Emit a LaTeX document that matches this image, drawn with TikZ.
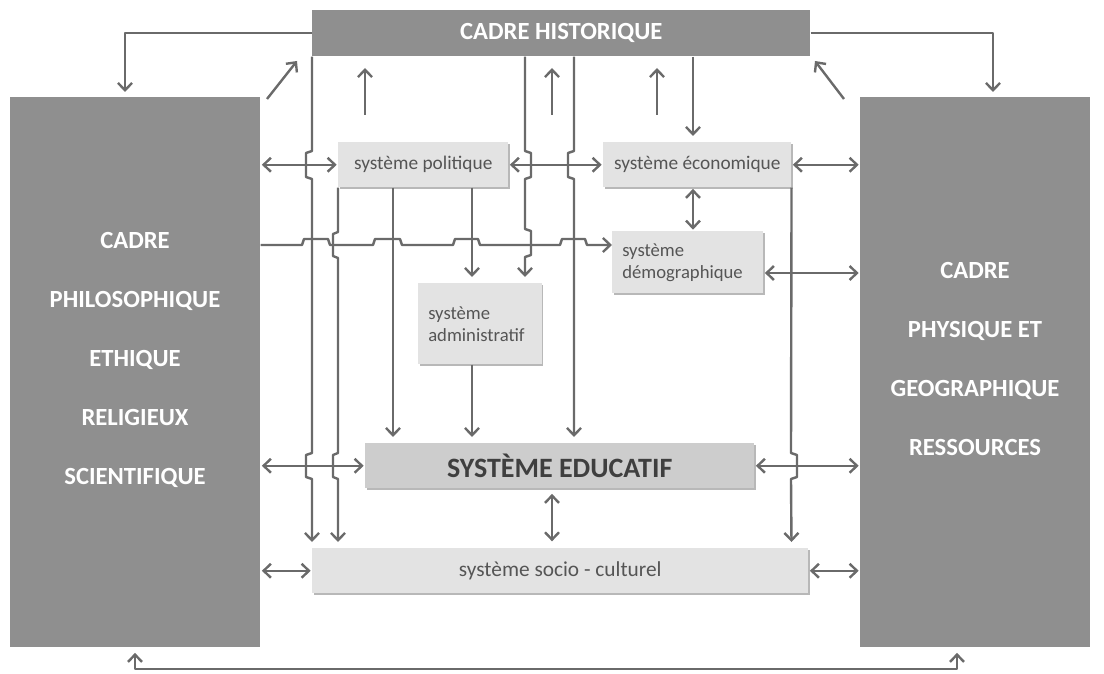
\documentclass[tikz,border=0pt]{standalone}
\usepackage{fontspec}
\setmainfont{Carlito}
\usetikzlibrary{arrows.meta,calc,shadows}
\definecolor{FrameGray}{HTML}{8F8F8F}
\definecolor{SysGray}{HTML}{E3E3E3}
\definecolor{EduGray}{HTML}{CDCDCD}
\definecolor{LinkGray}{HTML}{6A6A6A}
\definecolor{SysText}{HTML}{555555}
\definecolor{EduText}{HTML}{3F3F3F}
\tikzset{
  frbox/.style={fill=FrameGray, text=white, inner sep=0pt, align=center, font=\fontsize{18.5}{22}\selectfont\bfseries},
  frtext/.style={text=white, align=center, inner sep=0pt, font=\fontsize{18.5}{44.25}\selectfont\bfseries},
  sysbox/.style={fill=SysGray, text=SysText, inner sep=0pt, align=center, font=\fontsize{14.5}{17}\selectfont,
    drop shadow={shadow xshift=1pt, shadow yshift=-1pt, fill=black!28, opacity=1}},
  sysleft/.style={sysbox, align=left, inner xsep=7.5pt, font=\fontsize{14}{16.5}\selectfont},
  edubox/.style={sysbox, fill=EduGray, text=EduText, font=\fontsize{21}{24}\selectfont\bfseries},
  link/.style={line width=1.8pt, draw=LinkGray, line join=round},
  tolink/.style={link, -{Straight Barb[length=5.5pt,width=10.5pt]}},
  downlink/.style={tolink, shorten >=4.5pt},
  bilink/.style={link, {Straight Barb[length=5.5pt,width=10.5pt]}-{Straight Barb[length=5.5pt,width=10.5pt]}, shorten <=1pt, shorten >=1pt}
}
\begin{document}
\begin{tikzpicture}[x=0.75pt, y=-0.75pt]
  \useasboundingbox (0,0) rectangle (1104,674);
  % frames
  \node[frbox, anchor=north west, minimum width=373.5pt, minimum height=34.5pt] (hist) at (312,10) {CADRE HISTORIQUE};
  \node[frbox, anchor=north west, minimum width=187.5pt, minimum height=412.5pt] (phil) at (10,97) {};
  \node[frbox, anchor=north west, minimum width=172.5pt, minimum height=412.5pt] (geo) at (860,97) {};
  \node[frtext] (philtxt) at (135,360) {CADRE\\PHILOSOPHIQUE\\ETHIQUE\\RELIGIEUX\\SCIENTIFIQUE};
  \node[frtext] (geotxt) at (975,359) {CADRE\\PHYSIQUE ET\\GEOGRAPHIQUE\\RESSOURCES};
  % systems
  \node[sysbox, anchor=north west, minimum width=127.5pt, minimum height=33.75pt] (pol) at (338,142) {système politique};
  \node[sysbox, anchor=north west, minimum width=141pt, minimum height=33.75pt] (eco) at (603,142) {système économique};
  \node[sysleft, anchor=north west, text width=98.25pt, minimum height=46.5pt] (demo) at (612,231) {système\\démographique};
  \node[sysleft, anchor=north west, text width=77.75pt, minimum height=60.75pt] (admin) at (418,283) {système\\administratif};
  \node[edubox, anchor=north west, minimum width=291.75pt, minimum height=33.75pt] (edu) at (365,443) {SYSTÈME EDUCATIF};
  \node[sysbox, anchor=north west, minimum width=372pt, minimum height=33.75pt, font=\fontsize{16}{18}\selectfont] (soc) at (312,548) {système socio - culturel};

  % top and bottom frame links
  \draw[tolink] (hist.west) -| (125,92);
  \draw[tolink] (hist.east) -| (993,92);
  \draw[tolink] (267,99) -- (297,61);
  \draw[tolink] (844,99) -- (815,61);
  \foreach \x in {365,552,657}
    \draw[tolink] (\x,115) -- (\x,68);
  \draw[bilink, shorten <=4pt, shorten >=4pt] (phil.south -| 135,0) -- (135,669) -| (geo.south -| 957,0);

  % horizontal links
  \draw[bilink] (phil.east |- pol.west) -- (pol.west);
  \draw[bilink] (pol.east) -- (eco.west);
  \draw[bilink] (eco.east) -- (geo.west |- eco.east);
  \draw[tolink] (phil.east |- 0,245) -- (302,245) -- ++(2,-6) -- ++(24,0) -- ++(2,6)
    -- (373,245) -- ++(2,-6) -- ++(25,0) -- ++(2,6)
    -- (453,245) -- ++(2,-6) -- ++(23,0) -- ++(2,6)
    -- (560,245) -- ++(2,-6) -- ++(23,0) -- ++(2,6) -- (demo.west |- 0,245);
  \draw[bilink] (demo.east |- 0,273) -- (geo.west |- 0,273);
  \draw[bilink] (phil.east |- edu.west) -- (edu.west);
  \draw[bilink] (edu.east) -- (geo.west |- edu.east);
  \draw[bilink] (phil.east |- soc.west) -- (soc.west);
  \draw[bilink] (soc.east) -- (geo.west |- soc.east);

  % vertical links
  \draw[downlink] (hist.south west) -- (312,151) -- ++(-6,2) -- ++(0,24) -- ++(6,2)
    -- (312,453) -- ++(-6,2) -- ++(0,22) -- ++(6,2) -- (soc.north west);
  \draw[downlink] (pol.south west) -- (338,232) -- ++(-5,2) -- ++(0,22) -- ++(5,2)
    -- (338,453) -- ++(-5,2) -- ++(0,22) -- ++(5,2) -- (soc.north -| pol.south west);
  \draw[downlink] (pol.south -| 393,0) -- (edu.north -| 393,0);
  \draw[downlink] (pol.south -| 472,0) -- (admin.north -| 472,0);
  \draw[downlink] (admin.south -| 472,0) -- (edu.north -| 472,0);
  \draw[downlink] (hist.south -| 525,0) -- (525,151) -- ++(6,2) -- ++(0,24) -- ++(-6,2)
    -- (525,229) -- ++(6,2) -- ++(0,24) -- ++(-6,2) -- (admin.north -| 525,0);
  \draw[downlink] (hist.south -| 574,0) -- (574,151) -- ++(-6,2) -- ++(0,24) -- ++(6,2)
    -- (edu.north -| 574,0);
  \draw[downlink] (hist.south -| 693,0) -- (eco.north -| 693,0);
  \draw[bilink] (eco.south -| 693,0) -- (demo.north -| 693,0);
  \draw[downlink] (eco.south east) -- (791,453) -- ++(6,2) -- ++(0,22) -- ++(-6,2)
    -- (soc.north -| eco.south east);
  \draw[bilink, shorten <=4pt, shorten >=5pt] (edu.south -| 552,0) -- (soc.north -| 552,0);
\end{tikzpicture}
\end{document}
